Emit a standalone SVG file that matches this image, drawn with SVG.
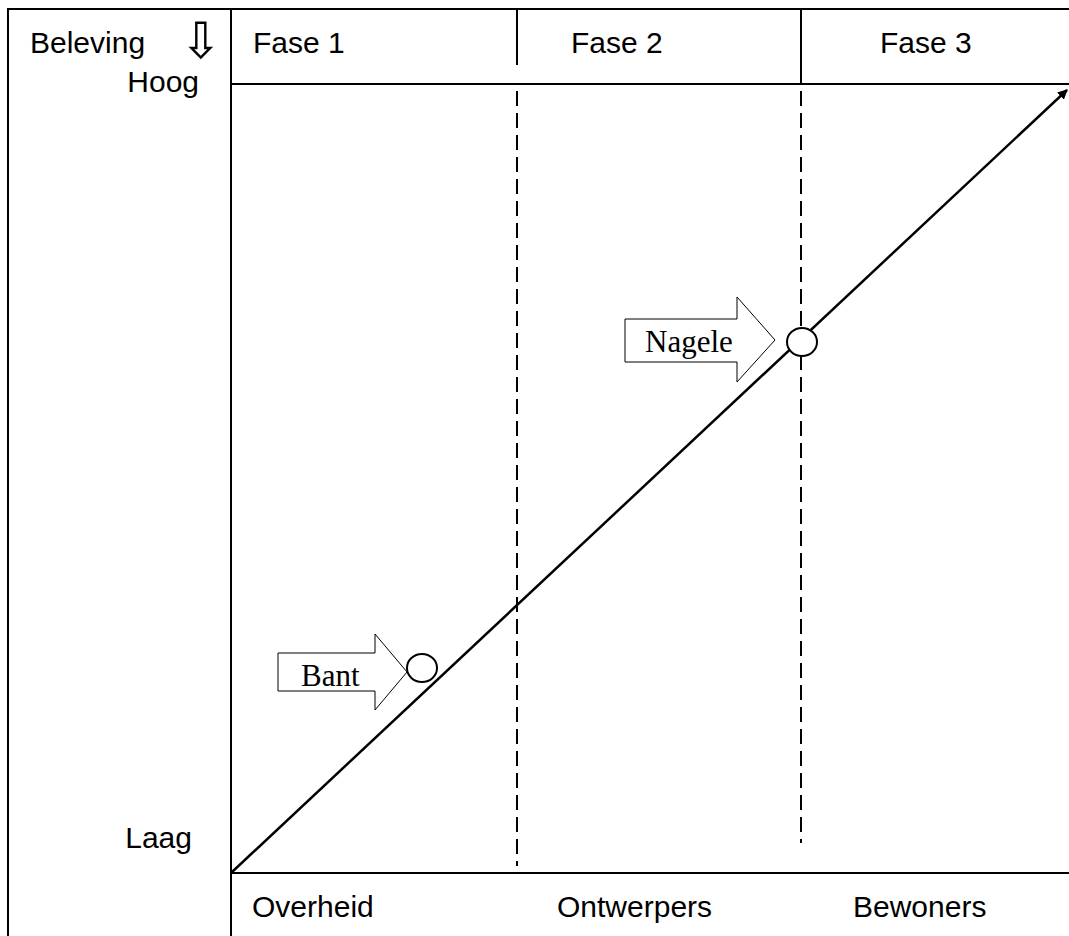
<svg xmlns="http://www.w3.org/2000/svg" width="1069" height="936" viewBox="0 0 1069 936">
<style>
.frame{stroke:#000;stroke-width:2;fill:none}
.dash{stroke:#000;stroke-width:2;fill:none;stroke-dasharray:15 7}
.sans{font-family:"Liberation Sans",Arial,sans-serif;font-size:30px;fill:#000}
.serif{font-family:"Liberation Serif","Times New Roman",serif;font-size:31px;fill:#000}
.bigarrow{fill:#fff;stroke:#000;stroke-width:1}
.dot{fill:#fff;stroke:#000;stroke-width:2}
</style>
<defs>
<marker id="ah" viewBox="0 0 10 10" refX="9" refY="5" markerWidth="4" markerHeight="4" orient="auto" markerUnits="strokeWidth">
<path d="M0,0 L10,5 L0,10 z" fill="#000"/>
</marker>
</defs>
<rect width="1069" height="936" fill="#fff"/>
<g id="frame">
<line class="frame" x1="7" y1="9" x2="1069" y2="9"/>
<line class="frame" x1="8" y1="8" x2="8" y2="936"/>
<line class="frame" x1="231" y1="8" x2="231" y2="936"/>
<line class="frame" x1="231" y1="84" x2="1069" y2="84"/>
<line class="frame" x1="231" y1="873" x2="1069" y2="873"/>
<line class="frame" x1="517" y1="9" x2="517" y2="65"/>
<line class="frame" x1="801" y1="9" x2="801" y2="84"/>
<line class="dash" x1="517" y1="91" x2="517" y2="866"/>
<line class="dash" x1="801" y1="91" x2="801" y2="843"/>
</g>
<g id="labels">
<text class="sans" x="30" y="53">Beleving</text>
<text x="180" y="58" style="font-family:'DejaVu Sans',sans-serif;font-size:50px">⇩</text>
<text class="sans" x="199" y="92" text-anchor="end">Hoog</text>
<text class="sans" x="192" y="848" text-anchor="end">Laag</text>
<text class="sans" x="253" y="53">Fase 1</text>
<text class="sans" x="571" y="53">Fase 2</text>
<text class="sans" x="880" y="53">Fase 3</text>
<text class="sans" x="252" y="917">Overheid</text>
<text class="sans" x="557" y="917">Ontwerpers</text>
<text class="sans" x="853" y="917">Bewoners</text>
</g>
<g id="connectors">
<line x1="231" y1="873" x2="1067" y2="90" stroke="#000" stroke-width="2.5" marker-end="url(#ah)"/>
</g>
<g id="nagele">
<polygon class="bigarrow" points="625,319 737,319 737,297 775,340 737,382 737,362 625,362"/>
<text class="serif" x="645" y="352">Nagele</text>
<ellipse class="dot" cx="802" cy="342" rx="15" ry="14"/>
</g>
<g id="bant">
<polygon class="bigarrow" points="278,653 375,653 375,634 407,672 375,710 375,691 278,691"/>
<text class="serif" x="301" y="686">Bant</text>
<ellipse class="dot" cx="422" cy="668" rx="15" ry="14"/>
</g>
</svg>
